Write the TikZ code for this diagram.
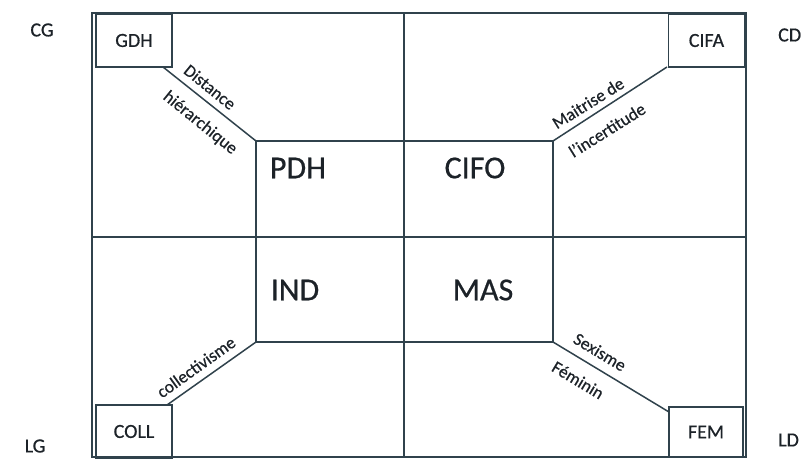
\documentclass[tikz,border=0pt]{standalone}
\usepackage{fontspec}
\setmainfont[FakeBold=0.6,AutoFakeBold=0.6]{Carlito}
\definecolor{ln}{RGB}{48,66,76}
\definecolor{tx}{RGB}{28,34,40}
\begin{document}
\begin{tikzpicture}[x=1pt,y=-1pt,
  frame/.style={draw=ln,line width=1.5pt},
  cbox/.style={draw=ln,line width=1.5pt,minimum width=76pt,minimum height=53pt,inner sep=0pt,text=tx,font=\fontsize{20}{22}\selectfont\bfseries},
  big/.style={text=tx,font=\fontsize{32}{34}\selectfont\bfseries,inner sep=0pt},
  corner/.style={text=tx,font=\fontsize{20}{22}\selectfont\bfseries,inner sep=0pt},
  diag/.style={text=tx,font=\fontsize{17.5}{19}\selectfont\bfseries,inner sep=0pt}]
\useasboundingbox (0,0) rectangle (802,460);
% outer frame and middle cross
\coordinate (o1) at (92,13);
\coordinate (o2) at (746,457);
\draw[frame] (o1) rectangle (o2);
\coordinate (vt) at (404,13);
\coordinate (vb) at (404,457);
\coordinate (hl) at (92,237);
\coordinate (hr) at (746,237);
\draw[frame] (vt) -- (vb);
\draw[frame] (hl) -- (hr);
% inner rectangle
\coordinate (i1) at (256,141);
\coordinate (i2) at (553,141);
\coordinate (i3) at (553,342);
\coordinate (i4) at (256,342);
\draw[frame] (i1) -- (i2) -- (i3) -- (i4) -- cycle;
% corner boxes
\node[cbox] (gdh) at (134,40.5) {GDH};
\node[cbox] (cifa) at (706.5,40.5) {CIFA};
\node[cbox] (coll) at (134,431.5) {COLL};
\node[cbox,minimum width=74pt,minimum height=50pt] (fem) at (706,432) {FEM};
% diagonals
\coordinate (d1) at (163,67);
\coordinate (d2) at (667,67);
\coordinate (d3) at (167,405);
\coordinate (d4) at (669,412);
\draw[frame] (d1) -- (i1);
\draw[frame] (d2) -- (i2);
\draw[frame] (d3) -- (i4);
\draw[frame] (d4) -- (i3);
% centre labels
\node[big] (pdh) at (298,168) {PDH};
\node[big] (cifo) at (475,168) {CIFO};
\node[big] (ind) at (295,290) {IND};
\node[big] (mas) at (483,290) {MAS};
% corner labels
\node[corner] (cg) at (42,30) {CG};
\node[corner,anchor=west] (cd) at (778,35) {CD};
\node[corner] (lg) at (35,446) {LG};
\node[corner,anchor=west] (ld) at (778,440) {LD};
% diagonal labels
\node[diag,rotate=-39] (l1) at (210,87) {Distance};
\node[diag,rotate=-39] (l2) at (200,123) {hiérarchique};
\node[diag,rotate=32] (l3) at (588,103) {Maitrise de};
\node[diag,rotate=32] (l4) at (607,130) {l'incertitude};
\node[diag,rotate=35.6] (l5) at (196,367) {collectivisme};
\node[diag,rotate=-31] (l6) at (600,352) {Sexisme};
\node[diag,rotate=-31] (l7) at (578,380) {Féminin};
\end{tikzpicture}
\end{document}
